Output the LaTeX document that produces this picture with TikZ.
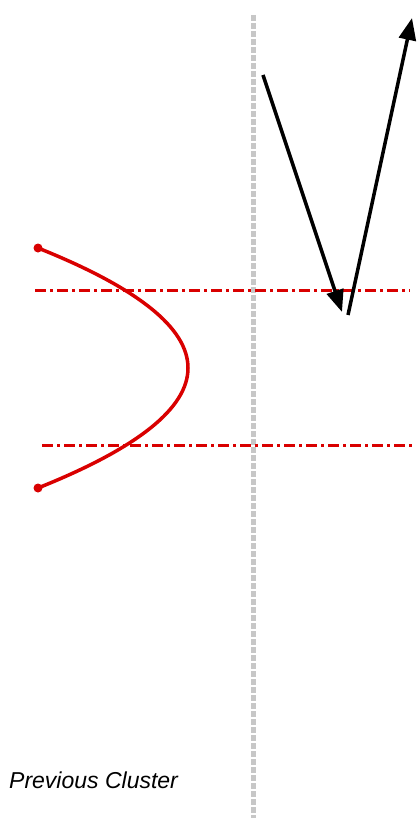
\documentclass[tikz,border=0pt]{standalone}
\usepackage{fontspec}
\setsansfont{Liberation Sans}
\usetikzlibrary{arrows.meta}

\begin{document}
\begin{tikzpicture}[
  x=1pt, y=-1pt,
  >={Triangle[length=22pt, width=17pt]},
  axis/.style    = {draw=black!22, line width=5pt, dash pattern=on 6pt off 2pt},
  bound/.style   = {draw=red!85!black, line width=3pt, dash pattern=on 11pt off 4pt on 3pt off 4pt},
  curve/.style   = {draw=red!85!black, line width=3.5pt},
  vec/.style     = {draw=black, line width=3.5pt},
  tip/.style     = {circle, fill=red!85!black, inner sep=0pt, minimum size=9pt},
]
  \useasboundingbox (0,0) rectangle (419,818);

  % separating axis
  \coordinate (atop) at (253,15);
  \coordinate (abot) at (253,818);
  \draw[axis] (atop) -- (abot);

  % cluster bounds
  \coordinate (b1l) at (35,290);
  \coordinate (b1r) at (410,290);
  \coordinate (b2l) at (42,445);
  \coordinate (b2r) at (415,445);
  \draw[bound] (b1l) -- (b1r);
  \draw[bound] (b2l) -- (b2r);

  % cluster curve
  \node[tip] (ctop) at (38,248) {};
  \node[tip] (cbot) at (38,488) {};
  \draw[curve] (ctop.center) .. controls (238,328) and (238,408) .. (cbot.center);

  % direction vectors
  \coordinate (v1s) at (263,75);
  \coordinate (v1e) at (342,312);
  \coordinate (v2s) at (348,315);
  \coordinate (v2e) at (412,18);
  \draw[vec, ->] (v1s) -- (v1e);
  \draw[vec, ->] (v2s) -- (v2e);

  \node[font=\sffamily\itshape\fontsize{23}{26}\selectfont, anchor=base west,
        inner sep=0pt] (lbl) at (9,788) {Previous Cluster};
\end{tikzpicture}
\end{document}
